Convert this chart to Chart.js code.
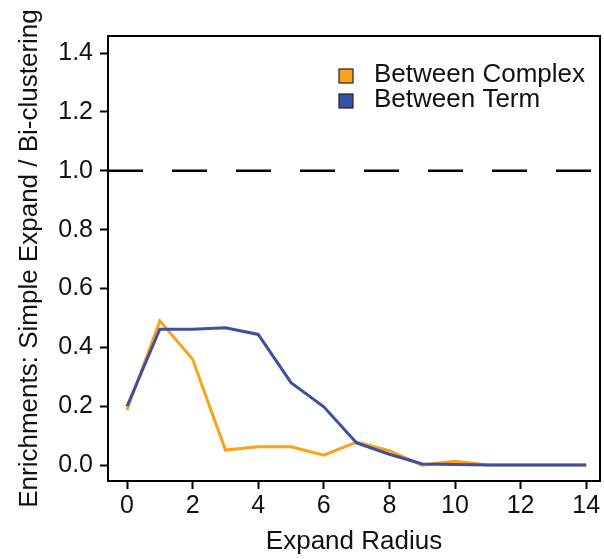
<!DOCTYPE html>
<html>
<head>
<meta charset="utf-8">
<script src="https://cdn.jsdelivr.net/npm/chart.js@4"></script>
<style>
    body { margin: 0; background: #fff; }
    #wrap { width: 604px; height: 559px; }
</style>
</head>
<body>
<div id="wrap"><canvas id="chart" width="604" height="559"></canvas></div>
<script>
// Data
const radius = [0, 1, 2, 3, 4, 5, 6, 7, 8, 9, 10, 11, 12, 13, 14];
const betweenComplex = [0.187, 0.49, 0.36, 0.051, 0.062, 0.062, 0.034, 0.078, 0.049, 0.0, 0.013, 0, 0, 0, 0];
const betweenTerm = [0.20, 0.462, 0.462, 0.467, 0.444, 0.28, 0.198, 0.075, 0.037, 0.004, 0.002, 0, 0, 0, 0];
const seriesLabels = ['Between Complex', 'Between Term'];
const xTicks = [0, 2, 4, 6, 8, 10, 12, 14];
const yTicks = [0.0, 0.2, 0.4, 0.6, 0.8, 1.0, 1.2, 1.4];
const refLine = 1.0;

const ORANGE = '#F9A31B';
const BLUE = '#3D50A2';
const FONT = "'Liberation Sans', Arial, sans-serif";

const toPoints = values => values.map((v, i) => ({ x: radius[i], y: v }));

// Dashed reference line at y = 1.0
const refLinePlugin = {
    id: 'refLine',
    beforeDatasetsDraw(chart) {
        const { ctx, chartArea, scales } = chart;
        const y = scales.y.getPixelForValue(refLine);
        ctx.save();
        ctx.strokeStyle = '#000';
        ctx.lineWidth = 2.5;
        ctx.setLineDash([35, 29]);
        ctx.beginPath();
        ctx.moveTo(chartArea.left, y);
        ctx.lineTo(chartArea.right, y);
        ctx.stroke();
        ctx.restore();
    }
};

// Frame round the plot and legend inside it
const framePlugin = {
    id: 'frame',
    afterDraw(chart) {
        const { ctx, chartArea } = chart;
        ctx.save();
        ctx.strokeStyle = '#000';
        ctx.lineWidth = 2;
        ctx.strokeRect(chartArea.left, chartArea.top, chartArea.right - chartArea.left, chartArea.bottom - chartArea.top);

        // legend
        const colors = [ORANGE, BLUE];
        ctx.font = '26px ' + FONT;
        ctx.textBaseline = 'middle';
        ctx.textAlign = 'left';
        seriesLabels.forEach((label, i) => {
            const cy = 76 + i * 25;
            ctx.fillStyle = colors[i];
            ctx.fillRect(339, cy - 7, 14, 14);
            ctx.lineWidth = 1.2;
            ctx.strokeStyle = '#222';
            ctx.strokeRect(339, cy - 7, 14, 14);
            ctx.fillStyle = '#111';
            ctx.fillText(label, 374, cy - 1);
        });
        ctx.restore();
    }
};

new Chart(document.getElementById('chart').getContext('2d'), {
    type: 'line',
    data: {
        datasets: [{
            label: seriesLabels[0],
            data: toPoints(betweenComplex),
            borderColor: ORANGE,
            borderWidth: 3,
            pointRadius: 0,
            tension: 0,
            order: 1
        }, {
            label: seriesLabels[1],
            data: toPoints(betweenTerm),
            borderColor: BLUE,
            borderWidth: 3,
            pointRadius: 0,
            tension: 0,
            order: 0
        }]
    },
    options: {
        responsive: false,
        animation: false,
        layout: { padding: { left: 0, right: 4, top: 36, bottom: 0 } },
        plugins: {
            legend: { display: false },
            tooltip: { enabled: false }
        },
        scales: {
            x: {
                type: 'linear',
                min: -0.58,
                max: 14.42,
                afterBuildTicks: scale => { scale.ticks = xTicks.map(v => ({ value: v })); },
                afterFit: scale => { scale.height = 78; },
                grid: { drawOnChartArea: false, tickLength: 8, tickColor: '#000', tickWidth: 2 },
                border: { display: false },
                ticks: {
                    padding: 2,
                    color: '#111',
                    maxRotation: 0,
                    font: { family: FONT, size: 25 },
                    callback: v => String(v)
                },
                title: {
                    display: true,
                    text: 'Expand Radius',
                    color: '#111',
                    font: { family: FONT, size: 26 },
                    padding: { top: 0, bottom: 2 }
                }
            },
            y: {
                type: 'linear',
                min: -0.054,
                max: 1.458,
                afterBuildTicks: scale => { scale.ticks = yTicks.map(v => ({ value: v })); },
                afterFit: scale => { scale.width = 108; },
                grid: { drawOnChartArea: false, tickLength: 8, tickColor: '#000', tickWidth: 2 },
                border: { display: false },
                ticks: {
                    padding: 7,
                    color: '#111',
                    font: { family: FONT, size: 25 },
                    callback: v => v.toFixed(1)
                },
                title: {
                    display: true,
                    text: 'Enrichments: Simple Expand / Bi-clustering',
                    color: '#111',
                    font: { family: FONT, size: 26 },
                    padding: { top: 14, bottom: 0 }
                }
            }
        }
    },
    plugins: [refLinePlugin, framePlugin]
});
</script>
</body>
</html>
